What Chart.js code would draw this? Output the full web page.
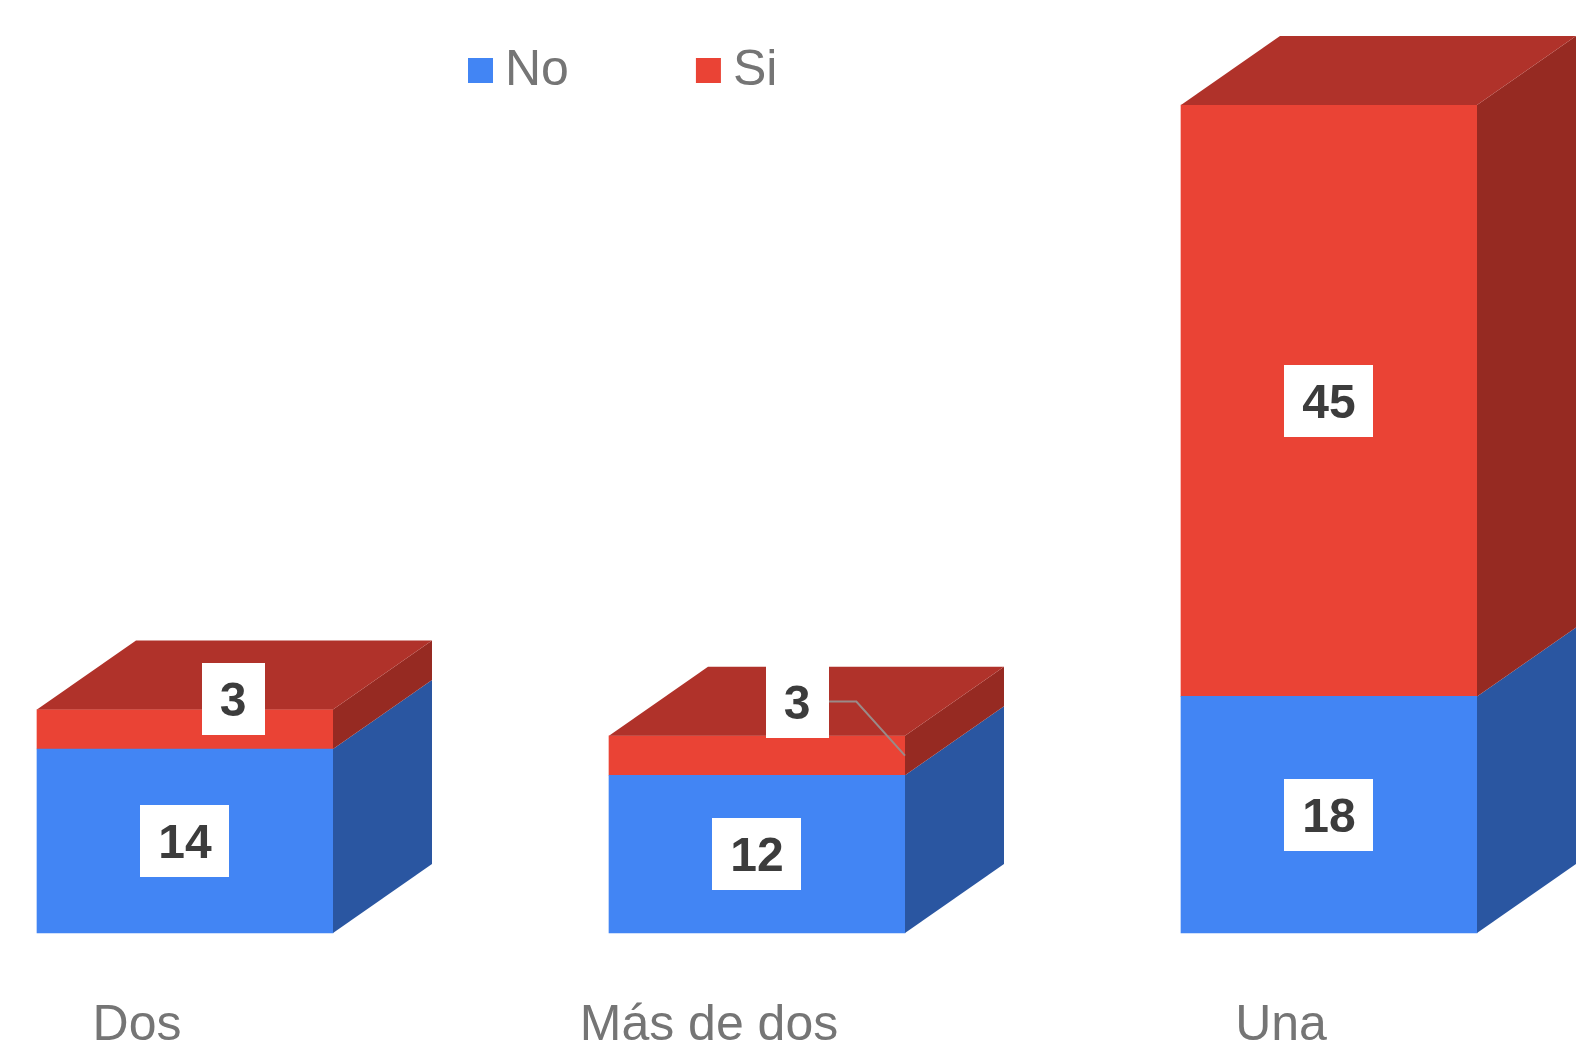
<!DOCTYPE html>
<html>
<head>
<meta charset="utf-8">
<script src="https://cdn.jsdelivr.net/npm/chart.js@4/dist/chart.umd.min.js"></script>
<style>
  html, body { margin: 0; padding: 0; background: #ffffff; }
  #wrap { width: 1581px; height: 1044px; }
</style>
</head>
<body>
<div id="wrap"><canvas id="c" width="1581" height="1044"></canvas></div>
<script>
// ---- data ----
const categories = ['Dos', 'Más de dos', 'Una'];
const seriesNames = ['No', 'Si'];
const noValues = [14, 12, 18];
const siValues = [3, 3, 45];

// ---- styles ----
const FONT = '"Liberation Sans", Arial, Helvetica, sans-serif';
const frontColors = ['#4285F4', '#EA4335'];
const sideColors = ['#2A56A1', '#962A22'];
const topColors = ['#2F5FB4', '#B0322A'];

const depthPlugin = {
  id: 'depth3d',
  afterDatasetsDraw(chart, args, opts) {
    const ctx = chart.ctx;
    const dx = opts.dx, dy = opts.dy;
    const metas = chart.getSortedVisibleDatasetMetas();
    const n = chart.data.labels.length;
    ctx.save();
    for (let i = 0; i < n; i++) {
      let topBox = null, topIdx = -1;
      metas.forEach(meta => {
        const el = meta.data[i];
        if (!el) return;
        const p = el.getProps(['x', 'y', 'base', 'width'], true);
        const l = p.x - p.width / 2, r = p.x + p.width / 2;
        const top = Math.min(p.y, p.base), bot = Math.max(p.y, p.base);
        if (bot - top <= 0) return;
        ctx.fillStyle = opts.sideColors[meta.index];
        ctx.beginPath();
        ctx.moveTo(r, top);
        ctx.lineTo(r + dx, top + dy);
        ctx.lineTo(r + dx, bot + dy);
        ctx.lineTo(r, bot);
        ctx.closePath();
        ctx.fill();
        topBox = { l, r, top };
        topIdx = meta.index;
      });
      if (topBox) {
        ctx.fillStyle = opts.topColors[topIdx];
        ctx.beginPath();
        ctx.moveTo(topBox.l, topBox.top);
        ctx.lineTo(topBox.l + dx, topBox.top + dy);
        ctx.lineTo(topBox.r + dx, topBox.top + dy);
        ctx.lineTo(topBox.r, topBox.top);
        ctx.closePath();
        ctx.fill();
      }
    }
    ctx.restore();
  }
};

const valueLabelPlugin = {
  id: 'valueLabels',
  afterDatasetsDraw(chart, args, opts) {
    const ctx = chart.ctx;
    ctx.save();
    ctx.font = 'bold ' + opts.fontSize + 'px ' + FONT;
    const metas = chart.getSortedVisibleDatasetMetas();
    metas.forEach(meta => {
      const ds = chart.data.datasets[meta.index];
      meta.data.forEach((el, i) => {
        const v = ds.data[i];
        if (!v) return;
        const p = el.getProps(['x', 'y', 'base', 'width'], true);
        const top = Math.min(p.y, p.base), bot = Math.max(p.y, p.base);
        const segMid = (top + bot) / 2;
        const shift = opts.shift[meta.index + '-' + i] || null;
        const cx = p.x + (shift ? shift.dx : 0);
        const cy = segMid + (shift ? shift.dy : 0);
        const txt = String(v);
        const tw = ctx.measureText(txt).width;
        const bw = tw + opts.padX * 2, bh = opts.boxH;
        if (shift && shift.leader) {
          const r = p.x + p.width / 2;
          ctx.strokeStyle = opts.leaderColor;
          ctx.lineWidth = 2;
          ctx.beginPath();
          ctx.moveTo(cx + bw / 2, cy);
          ctx.lineTo(cx + bw / 2 + 28, cy);
          ctx.lineTo(r, segMid);
          ctx.stroke();
        }
        ctx.fillStyle = '#ffffff';
        ctx.fillRect(Math.round(cx - bw / 2), Math.round(cy - bh / 2), Math.round(bw), bh);
        ctx.fillStyle = opts.color;
        ctx.textAlign = 'center';
        ctx.textBaseline = 'alphabetic';
        ctx.fillText(txt, cx, cy + opts.fontSize * 0.358);
      });
    });
    ctx.restore();
  }
};

const customLegendPlugin = {
  id: 'customLegend',
  afterDraw(chart, args, opts) {
    const ctx = chart.ctx;
    ctx.save();
    ctx.font = opts.fontSize + 'px ' + FONT;
    ctx.textAlign = 'left';
    ctx.textBaseline = 'alphabetic';
    let x = opts.x;
    chart.data.datasets.forEach(ds => {
      ctx.fillStyle = ds.backgroundColor;
      ctx.fillRect(x, opts.boxY, opts.box, opts.box);
      x += opts.box + opts.gap;
      ctx.fillStyle = opts.color;
      ctx.fillText(ds.label, x, opts.baseline);
      x += ctx.measureText(ds.label).width + opts.itemGap;
    });
    ctx.restore();
  }
};

new Chart(document.getElementById('c'), {
  type: 'bar',
  data: {
    labels: categories,
    datasets: [
      { label: seriesNames[0], data: noValues, backgroundColor: frontColors[0] },
      { label: seriesNames[1], data: siValues, backgroundColor: frontColors[1] }
    ]
  },
  options: {
    responsive: false,
    animation: false,
    events: [],
    layout: { padding: { left: 185, right: 252, top: 105, bottom: 0 } },
    datasets: { bar: { barThickness: 296, clip: false, borderWidth: 0 } },
    scales: {
      x: {
        stacked: true,
        offset: false,
        grid: { display: false },
        border: { display: false },
        ticks: {
          color: '#757575',
          font: { family: FONT, size: 50, lineHeight: 1 },
          padding: 60,
          labelOffset: -48,
          maxRotation: 0,
          autoSkip: false
        },
        afterFit(scale) { scale.height = 111; }
      },
      y: {
        stacked: true,
        display: false,
        min: 0,
        max: 63
      }
    },
    plugins: {
      legend: { display: false },
      tooltip: { enabled: false },
      depth3d: { dx: 99, dy: -69, sideColors: sideColors, topColors: topColors },
      valueLabels: {
        fontSize: 48, padX: 18, boxH: 72, color: '#3c3c3c', leaderColor: '#9a8a88',
        shift: {
          '1-0': { dx: 48, dy: -30 },
          '1-1': { dx: 40, dy: -54, leader: true }
        }
      },
      customLegend: { x: 468, boxY: 58, box: 25, gap: 12, itemGap: 127, baseline: 85, fontSize: 50, color: '#757575' }
    }
  },
  plugins: [depthPlugin, valueLabelPlugin, customLegendPlugin]
});
</script>
</body>
</html>
